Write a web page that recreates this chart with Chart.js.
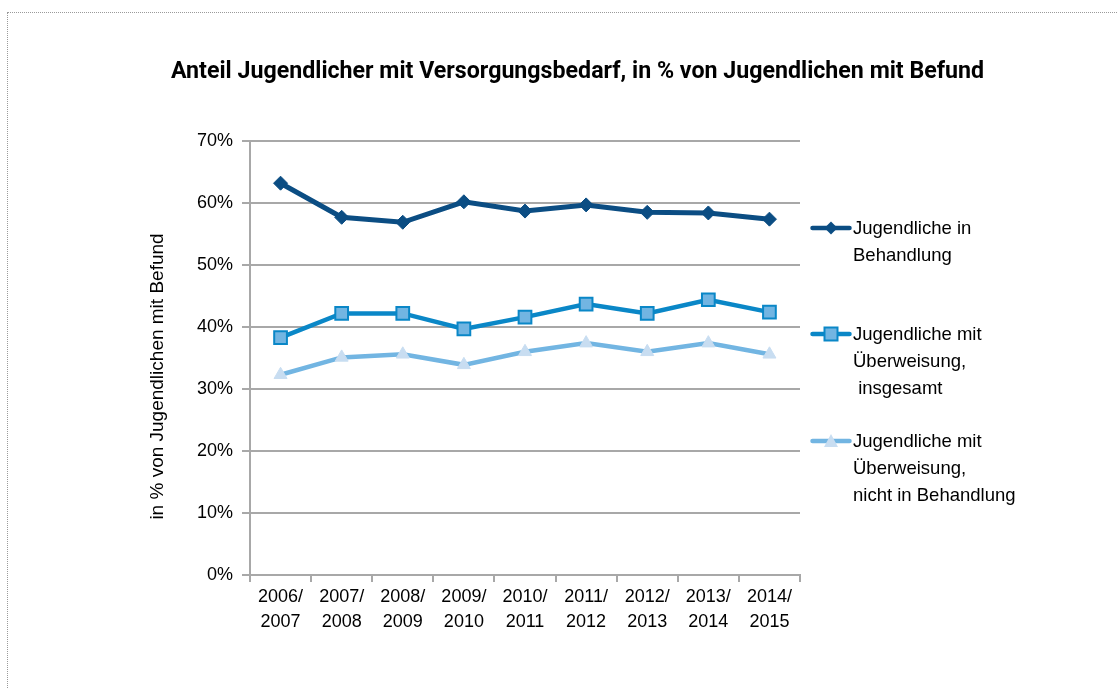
<!DOCTYPE html>
<html>
<head>
<meta charset="utf-8">
<script src="https://cdn.jsdelivr.net/npm/chart.js@4.4.1/dist/chart.umd.min.js"></script>
<style>
  html, body { margin: 0; padding: 0; background: #fff; }
  #wrap { position: relative; width: 1118px; height: 688px; overflow: hidden; }
  #frame { position: absolute; left: 7px; top: 12px; width: 1200px; height: 800px; border: 1px dotted #9a9a9a; box-sizing: border-box; }
  #legend { position: absolute; left: 810px; top: 0; font-family: 'Liberation Sans', Arial, sans-serif; font-size: 18.5px; color: #000; }
  .item { position: absolute; left: 0; white-space: pre; line-height: 27px; }
  .item svg { position: absolute; left: 0; top: 6px; }
  .item span { position: absolute; left: 43px; top: 0; }
</style>
</head>
<body>
<div id="wrap">
  <div id="frame"></div>
  <canvas id="myChart" width="1118" height="688" style="position:absolute;left:0;top:0;width:1118px;height:688px;"></canvas>
  <div id="legend"></div>
</div>
<script>
// data
const seasons = ['2006/2007', '2007/2008', '2008/2009', '2009/2010', '2010/2011', '2011/2012', '2012/2013', '2013/2014', '2014/2015'];
const inBehandlung = [63.2, 57.7, 56.9, 60.2, 58.7, 59.7, 58.5, 58.4, 57.4];
const ueberweisungGesamt = [38.3, 42.2, 42.2, 39.7, 41.6, 43.7, 42.2, 44.4, 42.4];
const ueberweisungNichtBeh = [32.3, 35.1, 35.6, 33.9, 36.0, 37.4, 36.0, 37.4, 35.6];
const seriesNames = ['Jugendliche in\nBehandlung', 'Jugendliche mit\nÜberweisung,\n insgesamt', 'Jugendliche mit\nÜberweisung,\nnicht in Behandlung'];
const yTicks = [0, 10, 20, 30, 40, 50, 60, 70];

const FONT = "'Liberation Sans', Arial, sans-serif";
const GRID = '#a8a8a8';

const labels = seasons.map(s => [s.slice(0, 5), s.slice(5)]);

const datasets = [
    {
        label: seriesNames[0],
        data: inBehandlung,
        borderColor: '#0b4d83',
        backgroundColor: '#0b4d83',
        borderWidth: 5,
        pointStyle: 'rectRot',
        pointRadius: 7,
        pointBorderWidth: 1,
    },
    {
        label: seriesNames[1],
        data: ueberweisungGesamt,
        borderColor: '#0a87c7',
        backgroundColor: '#72b5e2',
        pointBorderColor: '#0a87c7',
        borderWidth: 4.5,
        pointStyle: 'rect',
        pointRadius: 9,
        pointBorderWidth: 2,
    },
    {
        label: seriesNames[2],
        data: ueberweisungNichtBeh,
        borderColor: '#72b5e2',
        backgroundColor: '#c8ddf1',
        pointBorderColor: '#c8ddf1',
        borderWidth: 4.5,
        pointStyle: 'triangle',
        pointRadius: 7.5,
        pointBorderWidth: 1,
    },
];

const chart = new Chart(document.getElementById('myChart'), {
    type: 'line',
    data: { labels: labels, datasets: datasets },
    options: {
        responsive: false,
        animation: false,
        layout: { padding: { left: 141, right: 318, top: 0, bottom: 0 } },
        plugins: {
            legend: { display: false },
            tooltip: { enabled: false },
            title: {
                display: true,
                text: 'Anteil Jugendlicher mit Versorgungsbedarf, in % von Jugendlichen mit Befund',
                color: '#000',
                font: { family: "Roboto, 'Liberation Sans', Arial, sans-serif", size: 23.2, weight: 'bold', lineHeight: 1.2 },
                padding: { top: 58, bottom: 55.2 },
            },
        },
        scales: {
            x: {
                offset: true,
                afterFit: (scale) => { scale.height = 113; },
                grid: { display: true, drawOnChartArea: false, drawTicks: true, offset: true, tickLength: 7, color: GRID, lineWidth: 2 },
                border: { display: true, color: GRID, width: 2 },
                ticks: { color: '#000', padding: 2, maxRotation: 0, autoSkip: false, font: { family: FONT, size: 18, lineHeight: 1.4 } },
            },
            y: {
                min: 0,
                max: 70,
                afterFit: (scale) => { scale.width = 109; },
                afterBuildTicks: (scale) => { scale.ticks = yTicks.map(v => ({ value: v })); },
                grid: { color: GRID, lineWidth: 2, tickLength: 8 },
                border: { display: true, color: GRID, width: 2 },
                ticks: { color: '#000', padding: 9, font: { family: FONT, size: 18 }, callback: (v) => v + '%' },
                title: { display: true, text: 'in % von Jugendlichen mit Befund       ', color: '#000', padding: { top: 5, bottom: 0 }, font: { family: FONT, size: 19 } },
            },
        },
    },
    plugins: [{
        // the reference title sits centred over the whole frame, not the plot
        id: 'titleShift',
        afterLayout: (c) => {
            const t = c.titleBlock;
            t.left = 37; t.right = 1118; t.width = 1081;
        },
    }],
});

// legend built from the datasets
const legendTops = [214, 320, 427];
const legendEl = document.getElementById('legend');
datasets.forEach((ds, i) => {
    const item = document.createElement('div');
    item.className = 'item';
    item.style.top = legendTops[i] + 'px';
    let marker = '';
    const fill = ds.backgroundColor;
    const stroke = ds.pointBorderColor || ds.borderColor;
    if (ds.pointStyle === 'rectRot') {
        marker = `<polygon points="21,1.5 27.5,8 21,14.5 14.5,8" fill="${fill}"/>`;
    } else if (ds.pointStyle === 'rect') {
        marker = `<rect x="14.5" y="1.5" width="13" height="13" fill="${fill}" stroke="${stroke}" stroke-width="2"/>`;
    } else {
        marker = `<polygon points="21,1 28,14 14,14" fill="${fill}"/>`;
    }
    item.innerHTML = `<svg width="42" height="16"><line x1="2.5" y1="8" x2="39.5" y2="8" stroke="${ds.borderColor}" stroke-width="4.5" stroke-linecap="round"/>${marker}</svg><span>${ds.label}</span>`;
    legendEl.appendChild(item);
});
</script>
</body>
</html>
